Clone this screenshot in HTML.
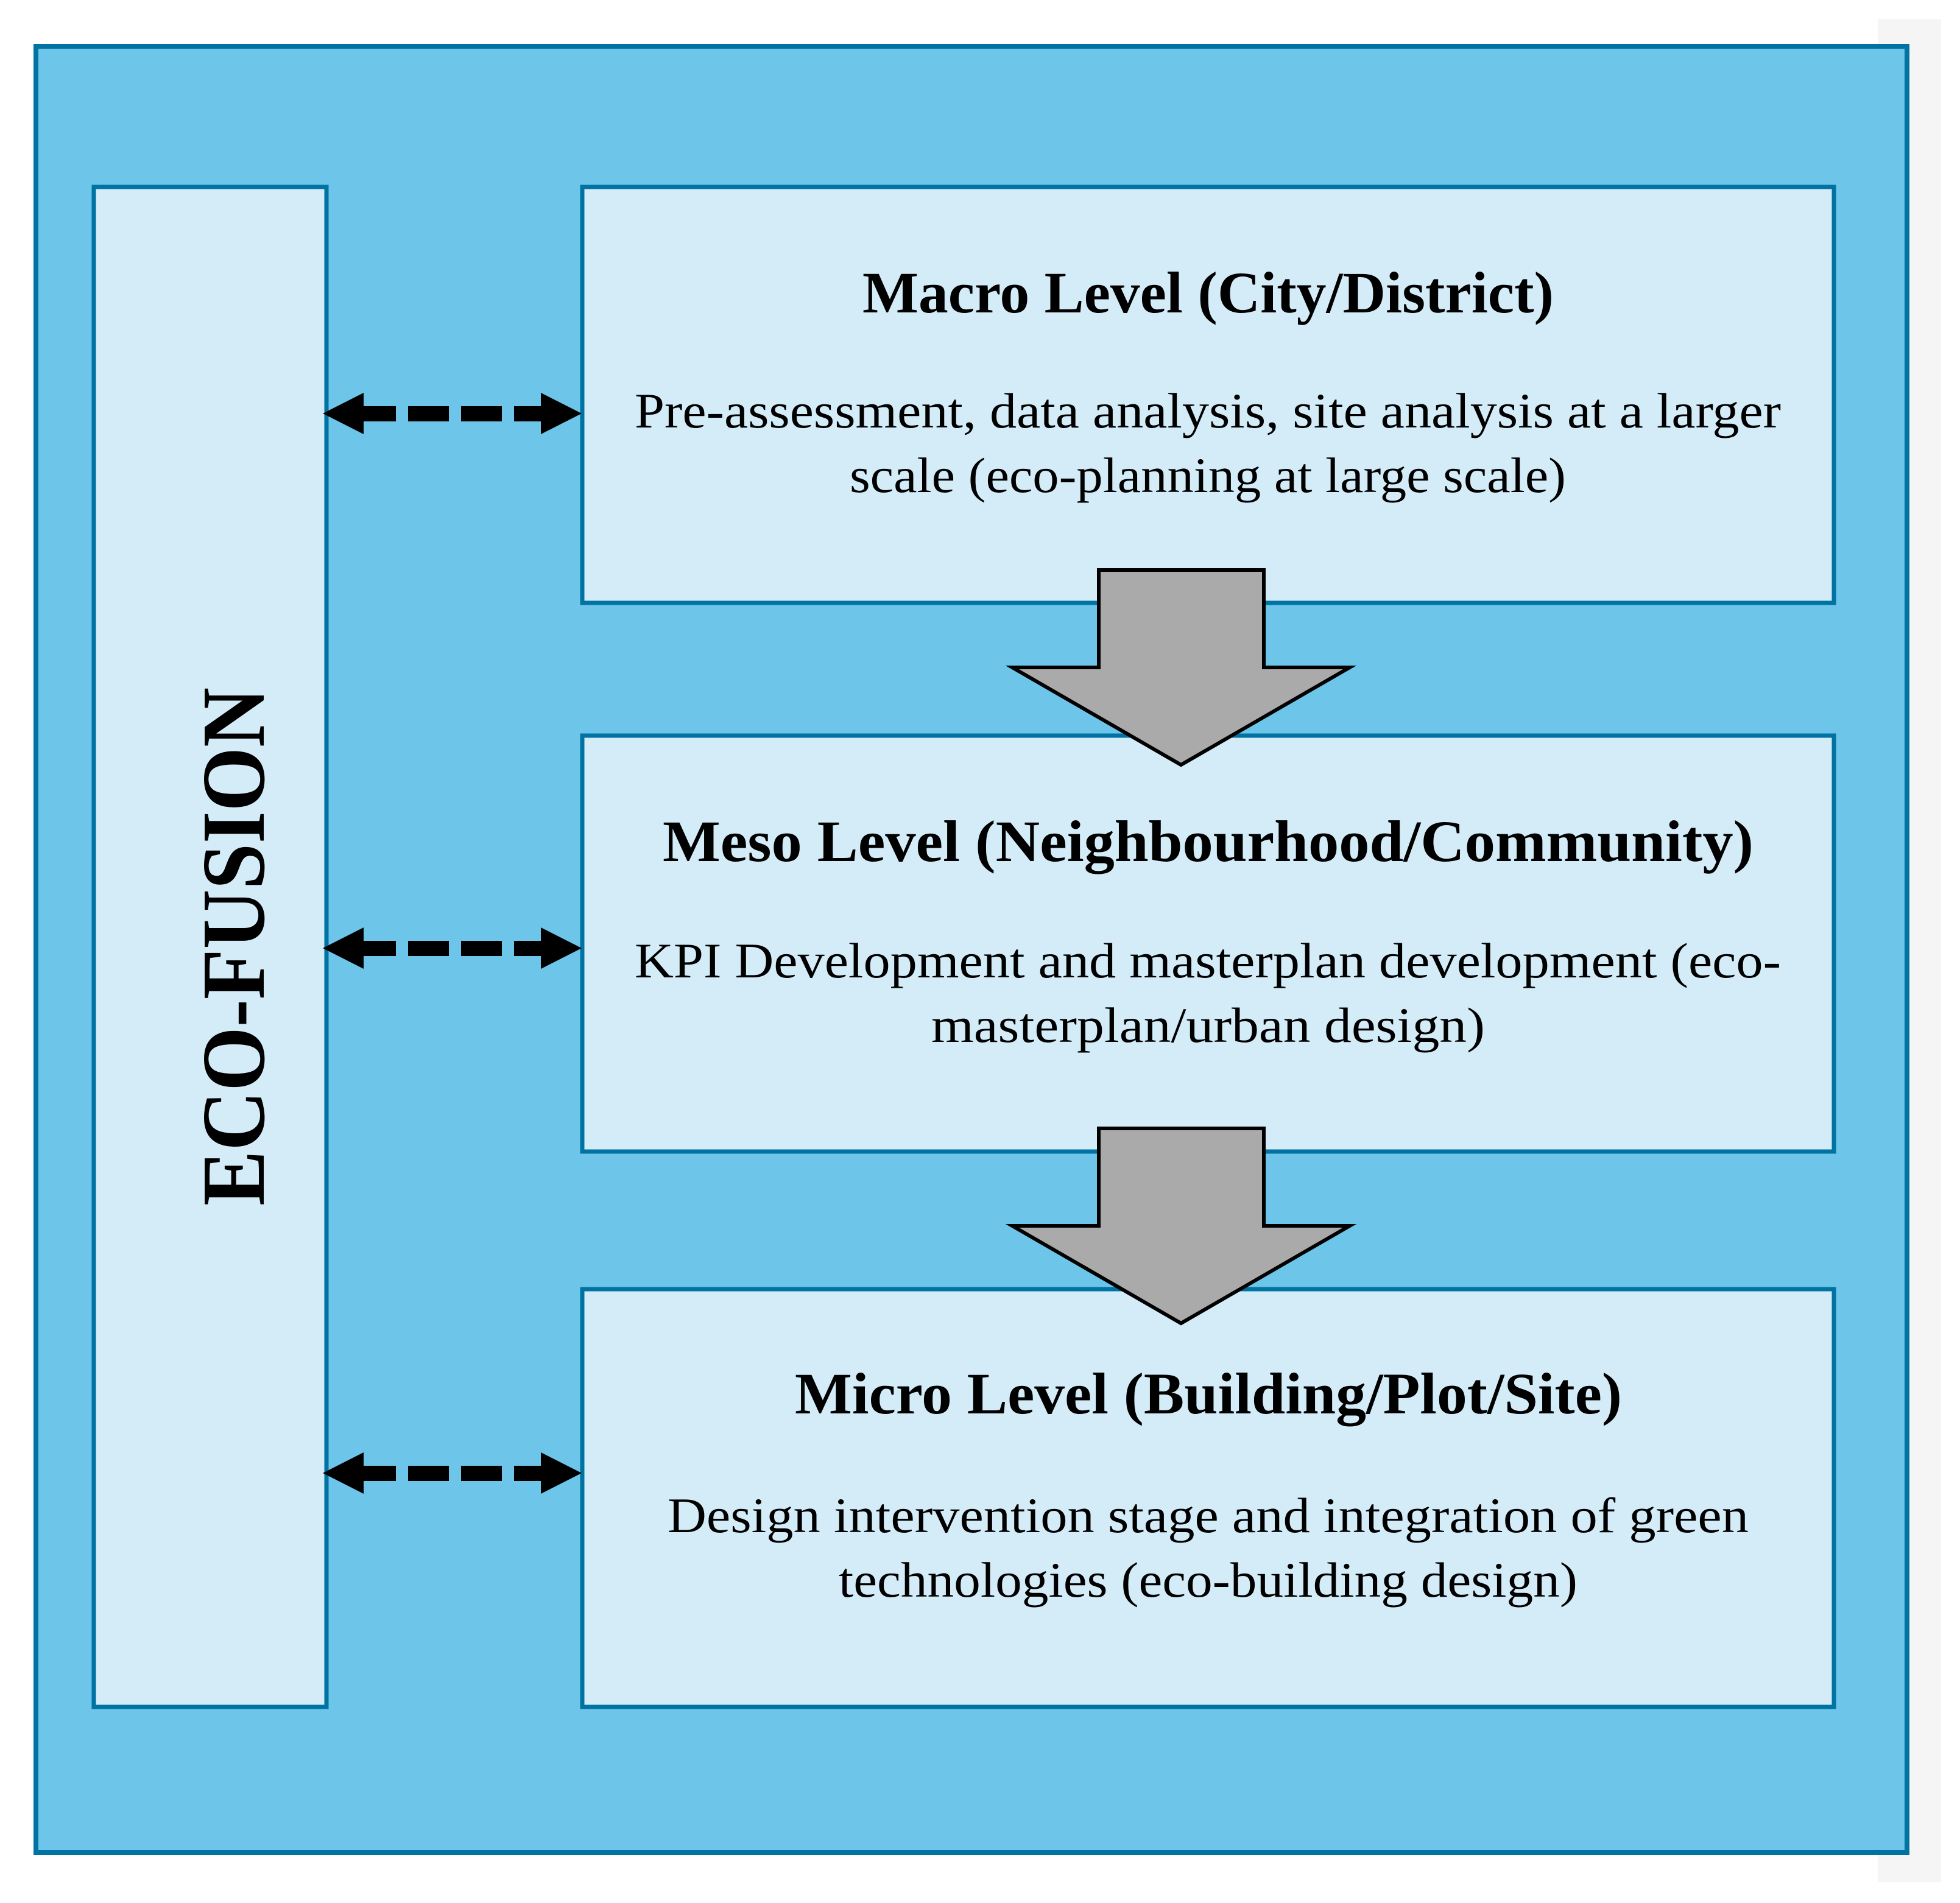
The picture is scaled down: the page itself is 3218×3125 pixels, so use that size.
<!DOCTYPE html>
<html><head><meta charset="utf-8"><style>html,body{margin:0;padding:0;background:#fff}svg{display:block}</style></head>
<body>
<svg width="3218" height="3125" viewBox="0 0 3218 3125" xmlns="http://www.w3.org/2000/svg" font-family="'Liberation Serif', serif">
<rect x="3083" y="31" width="104" height="3060" fill="#f5f5f5"/>
<rect x="59" y="76" width="3072" height="2966" fill="#6dc5ea" stroke="#0073a3" stroke-width="8"/>
<g fill="#d4ecf8" stroke="#0073a3" stroke-width="7">
<rect x="154" y="307" width="382" height="2496"/>
<rect x="956" y="307" width="2055" height="683"/>
<rect x="956" y="1208" width="2055" height="683"/>
<rect x="956" y="2117" width="2055" height="686"/>
</g>
<g fill="#aaaaaa" stroke="#000" stroke-width="6" stroke-linejoin="miter">
<polygon points="1804,936 2075,936 2075,1096 2216,1096 1939,1256 1662,1096 1804,1096"/>
<polygon points="1804,1853 2075,1853 2075,2013 2216,2013 1939,2173 1662,2013 1804,2013"/>
</g>
<g fill="#000">
<g id="da">
<polygon points="530,679 597,645 597,713"/>
<polygon points="955,679 888,645 888,713"/>
<rect x="597" y="667" width="53" height="25"/>
<rect x="670" y="667" width="67" height="25"/>
<rect x="757" y="667" width="67" height="25"/>
<rect x="844" y="667" width="44" height="25"/>
</g>
<use href="#da" transform="translate(0,878)"/>
<use href="#da" transform="translate(0,1740)"/>
</g>
<g fill="#000">
<text x="1416" y="513" font-size="96" font-weight="bold" textLength="1135" lengthAdjust="spacingAndGlyphs">Macro Level (City/District)</text>
<text x="1042" y="702" font-size="82" textLength="1882" lengthAdjust="spacingAndGlyphs">Pre-assessment, data analysis, site analysis at a larger</text>
<text x="1395" y="808" font-size="82" textLength="1176" lengthAdjust="spacingAndGlyphs">scale (eco-planning at large scale)</text>
<text x="1088" y="1414" font-size="96" font-weight="bold" textLength="1791" lengthAdjust="spacingAndGlyphs">Meso Level (Neighbourhood/Community)</text>
<text x="1042" y="1605" font-size="82" textLength="1882" lengthAdjust="spacingAndGlyphs">KPI Development and masterplan development (eco-</text>
<text x="1529" y="1711" font-size="82" textLength="909" lengthAdjust="spacingAndGlyphs">masterplan/urban design)</text>
<text x="1305" y="2321" font-size="96" font-weight="bold" textLength="1358" lengthAdjust="spacingAndGlyphs">Micro Level (Building/Plot/Site)</text>
<text x="1096" y="2516" font-size="82" textLength="1775" lengthAdjust="spacingAndGlyphs">Design intervention stage and integration of green</text>
<text x="1377" y="2622" font-size="82" textLength="1213" lengthAdjust="spacingAndGlyphs">technologies (eco-building design)</text>
<text transform="translate(433,1980) rotate(-90)" x="0" y="0" font-size="148" font-weight="bold" textLength="851" lengthAdjust="spacingAndGlyphs">ECO-FUSION</text>
</g>
</svg>
</body></html>
